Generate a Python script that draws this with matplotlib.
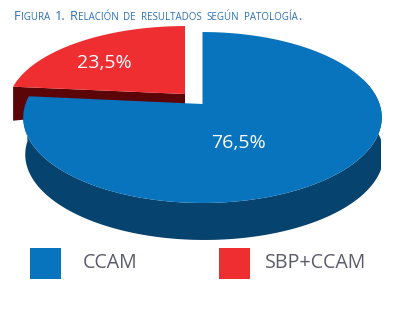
import numpy as np
import matplotlib
matplotlib.use("Agg")
import matplotlib.pyplot as plt
from matplotlib.patches import Polygon, Rectangle

categorias = ["CCAM", "SBP+CCAM"]
valores = [76.5, 23.5]
etiquetas = ["76,5%", "23,5%"]
titulo = "Figura 1. Relación de resultados según patología."

AZUL = "#0874bd"
AZUL_OSC = "#07436f"
ROJO = "#ef2e31"
ROJO_OSC = "#5c0509"
GRIS = "#5b5b6b"

plt.rcParams["font.family"] = ["Open Sans", "DejaVu Sans"]

fig = plt.figure(figsize=(4.07, 3.18), dpi=100)
ax = fig.add_axes([0, 0, 1, 1])
ax.set_xlim(0, 407)
ax.set_ylim(318, 0)
ax.axis("off")

# perspectiva simple: circulo unidad -> elipse con el centro desplazado
CX, CY = 202.5, 104
A = 177
C = 0.158
B = -66.9


def punto(t, cx=CX, cy=CY, sx=1.0, sy=1.0):
    u, v = np.cos(t), np.sin(t)
    w = 1 + C * v
    return cx + sx * A * u / w, cy + sy * ((B * v + CY) / w - CY)


# angulos de cada sector a partir de los valores
ang_azul = np.radians(valores[0] / sum(valores) * 360)
inicio = np.pi / 2
t_azul = np.linspace(inicio, inicio - ang_azul, 300)
t_rojo = np.linspace(inicio - ang_azul, inicio - 2 * np.pi, 100)

# pared del sector azul
t_abajo = np.linspace(np.pi, np.pi * 2.1, 200)
xa, ya = punto(t_abajo)
pared = np.r_[np.c_[xa, ya], np.c_[np.minimum(xa + 2, 381), ya + 37][::-1]]
ax.add_patch(Polygon(pared, closed=True, fc=AZUL_OSC, ec="none", zorder=1))

# sector rojo separado, con su pared
cx_r, cy_r = CX - 17.5, CY - 10
xr, yr = punto(t_rojo, cx_r, cy_r, sx=0.99, sy=0.944)
ax.add_patch(Polygon([(xr[0], yr[0]), (cx_r, cy_r), (cx_r, cy_r + 10),
                      (xr[0], yr[0] + 34)], closed=True, fc=ROJO_OSC, ec="none", zorder=1))
ax.add_patch(Polygon(np.r_[[(cx_r, cy_r)], np.c_[xr, yr]], closed=True, fc=ROJO, ec="none", zorder=2))

# sector azul
xz, yz = punto(t_azul)
ax.add_patch(Polygon(np.r_[[(CX, CY)], np.c_[xz, yz]], closed=True, fc=AZUL, ec="none", zorder=3))

ax.text(238, 143.5, etiquetas[0], color="white", fontsize=14, ha="center", va="center", zorder=4)
ax.text(104, 63.5, etiquetas[1], color="white", fontsize=14, ha="center", va="center", zorder=4)

# leyenda
for x0, xt, nombre, col in zip([30, 219], [83, 265], categorias, [AZUL, ROJO]):
    ax.add_patch(Rectangle((x0, 248), 31, 31, fc=col, ec="none"))
    ax.text(xt, 263, nombre, color=GRIS, fontsize=14.1, ha="left", va="center")

# titulo en versalitas, palabra a palabra y trozo a trozo
fig.canvas.draw()
rend = fig.canvas.get_renderer()
x = 13.5
for palabra in titulo.split(" "):
    trozos = []
    for c in palabra:
        peq = c.islower() or c in "áéíóú"
        if trozos and peq == trozos[-1][1]:
            trozos[-1][0] += c
        else:
            trozos.append([c, peq])
    for txt, peq in trozos:
        t = ax.text(x, 20, txt.upper(), color="#2b70b4", fontsize=7.0 if peq else 9.2,
                    ha="left", va="baseline")
        x += t.get_window_extent(rend).width + 0.4
    x += 4.3

fig.savefig("out.png", dpi=100)
